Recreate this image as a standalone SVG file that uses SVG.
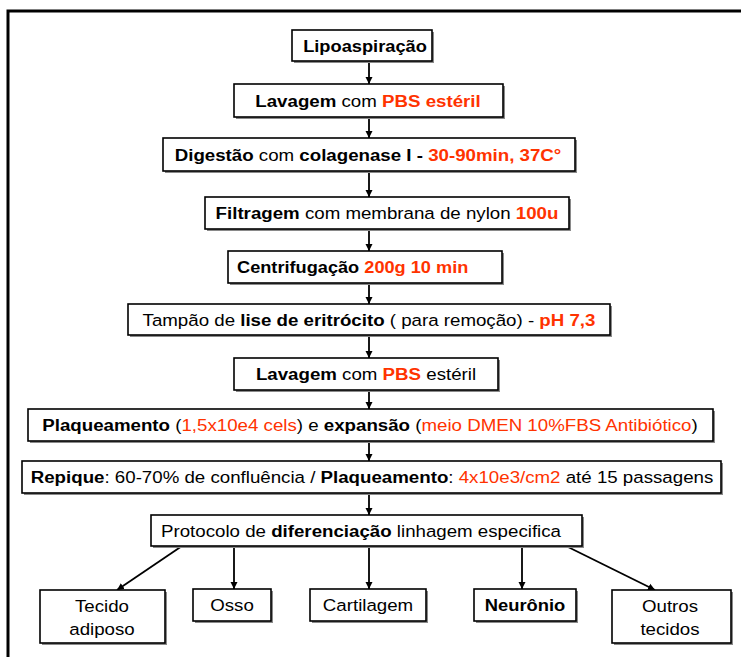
<svg xmlns="http://www.w3.org/2000/svg" width="741" height="657" viewBox="0 0 741 657">
<defs>
<marker id="ah" markerUnits="userSpaceOnUse" markerWidth="8" markerHeight="8" refX="7" refY="4" orient="auto">
<path d="M0,0.5 L7,4 L0,7.5 z" fill="#000"/>
</marker>
<style>
.box{fill:#fff;stroke:#000;stroke-width:1.6}
.sh{fill:#8a8a8a}
.t{font-family:"Liberation Sans",Arial,sans-serif;font-size:17px;fill:#000}
.b{font-weight:bold}
.r{fill:#ff3300}
.c{fill:none;stroke:#000;stroke-width:1.8;marker-end:url(#ah)}
</style>
</defs>
<rect x="0" y="0" width="741" height="657" fill="#fff"/>
<rect x="8" y="11" width="780" height="700" fill="none" stroke="#000" stroke-width="3"/>

<g id="connectors">
<line class="c" x1="369" y1="61" x2="369" y2="84"/>
<line class="c" x1="369" y1="117" x2="369" y2="138"/>
<line class="c" x1="369" y1="171" x2="369" y2="197"/>
<line class="c" x1="369" y1="229" x2="369" y2="251"/>
<line class="c" x1="369" y1="283" x2="369" y2="304"/>
<line class="c" x1="369" y1="335" x2="369" y2="358"/>
<line class="c" x1="369" y1="390" x2="369" y2="409"/>
<line class="c" x1="369" y1="441" x2="369" y2="461"/>
<line class="c" x1="369" y1="493" x2="369" y2="515"/>
<line class="c" x1="182" y1="546" x2="117" y2="590"/>
<line class="c" x1="234" y1="546" x2="234" y2="589"/>
<line class="c" x1="369" y1="546" x2="369" y2="589"/>
<line class="c" x1="522" y1="546" x2="522" y2="589"/>
<line class="c" x1="564" y1="545" x2="655" y2="590"/>
</g>

<g id="lipoaspiracao">
<rect class="sh" x="294" y="32" width="140" height="31"/>
<rect class="box" x="292" y="30" width="140" height="31"/>
<text class="t b" text-anchor="middle" transform="translate(365,52) scale(1.075,1)">Lipoaspiração</text>
</g>

<g id="lavagem1">
<rect class="sh" x="236" y="86" width="269" height="33"/>
<rect class="box" x="234" y="84" width="269" height="33"/>
<text class="t" text-anchor="middle" transform="translate(368,107) scale(1.1,1)"><tspan class="b">Lavagem</tspan> com <tspan class="b r">PBS estéril</tspan></text>
</g>

<g id="digestao">
<rect class="sh" x="165" y="140" width="412" height="33"/>
<rect class="box" x="163" y="138" width="412" height="33"/>
<text class="t" text-anchor="middle" transform="translate(368,161) scale(1.1,1)"><tspan class="b">Digestão</tspan> com <tspan class="b">colagenase I - </tspan> <tspan class="b r">30-90min, 37C°</tspan></text>
</g>

<g id="filtragem">
<rect class="sh" x="207" y="199" width="364" height="32"/>
<rect class="box" x="205" y="197" width="364" height="32"/>
<text class="t" text-anchor="middle" transform="translate(387,219) scale(1.1,1)"><tspan class="b">Filtragem</tspan> com membrana de nylon <tspan class="b r">100u</tspan></text>
</g>

<g id="centrifugacao">
<rect class="sh" x="230" y="253" width="274" height="32"/>
<rect class="box" x="228" y="251" width="274" height="32"/>
<text class="t" transform="translate(237,273) scale(1.07,1)"><tspan class="b">Centrifugação</tspan> <tspan class="b r">200g 10 min</tspan></text>
</g>

<g id="tampao">
<rect class="sh" x="130" y="306" width="482" height="31"/>
<rect class="box" x="128" y="304" width="482" height="31"/>
<text class="t" text-anchor="middle" transform="translate(369,326) scale(1.1,1)">Tampão de <tspan class="b">lise de eritrócito</tspan> ( para remoção) -  <tspan class="b r">pH 7,3</tspan></text>
</g>

<g id="lavagem2">
<rect class="sh" x="236" y="360" width="264" height="32"/>
<rect class="box" x="234" y="358" width="264" height="32"/>
<text class="t" text-anchor="middle" transform="translate(366,380) scale(1.1,1)"><tspan class="b">Lavagem</tspan> com <tspan class="b r">PBS</tspan> estéril</text>
</g>

<g id="plaqueamento">
<rect class="sh" x="30" y="411" width="685" height="32"/>
<rect class="box" x="28" y="409" width="685" height="32"/>
<text class="t" text-anchor="middle" transform="translate(370,431) scale(1.1,1)"><tspan class="b">Plaqueamento</tspan> (<tspan class="r">1,5x10e4 cels</tspan>) e <tspan class="b">expansão</tspan> (<tspan class="r">meio DMEN 10%FBS Antibiótico</tspan>)</text>
</g>

<g id="repique">
<rect class="sh" x="24" y="463" width="699" height="32"/>
<rect class="box" x="22" y="461" width="699" height="32"/>
<text class="t" text-anchor="middle" transform="translate(372,483) scale(1.1,1)"><tspan class="b">Repique</tspan>: 60-70% de confluência / <tspan class="b">Plaqueamento</tspan>: <tspan class="r">4x10e3/cm2</tspan> até 15 passagens</text>
</g>

<g id="protocolo">
<rect class="sh" x="153" y="517" width="431" height="31"/>
<rect class="box" x="151" y="515" width="431" height="31"/>
<text class="t" transform="translate(161,537) scale(1.1,1)">Protocolo de <tspan class="b">diferenciação</tspan> linhagem especifica</text>
</g>

<g id="tecido-adiposo">
<rect class="sh" x="42" y="592" width="125" height="53"/>
<rect class="box" x="40" y="590" width="125" height="53"/>
<text class="t" text-anchor="middle" transform="translate(102,612) scale(1.1,1)">Tecido</text>
<text class="t" text-anchor="middle" transform="translate(102,635) scale(1.1,1)">adiposo</text>
</g>

<g id="osso">
<rect class="sh" x="195" y="591" width="78" height="32"/>
<rect class="box" x="193" y="589" width="78" height="32"/>
<text class="t" text-anchor="middle" transform="translate(232,611) scale(1.1,1)">Osso</text>
</g>

<g id="cartilagem">
<rect class="sh" x="312" y="591" width="116" height="32"/>
<rect class="box" x="310" y="589" width="116" height="32"/>
<text class="t" text-anchor="middle" transform="translate(368,611) scale(1.1,1)">Cartilagem</text>
</g>

<g id="neuronio">
<rect class="sh" x="476" y="591" width="102" height="32"/>
<rect class="box" x="474" y="589" width="102" height="32"/>
<text class="t b" text-anchor="middle" transform="translate(525,611) scale(1.08,1)">Neurônio</text>
</g>

<g id="outros-tecidos">
<rect class="sh" x="614" y="592" width="119" height="53"/>
<rect class="box" x="612" y="590" width="119" height="53"/>
<text class="t" text-anchor="middle" transform="translate(670,612) scale(1.1,1)">Outros</text>
<text class="t" text-anchor="middle" transform="translate(670,635) scale(1.1,1)">tecidos</text>
</g>
</svg>
